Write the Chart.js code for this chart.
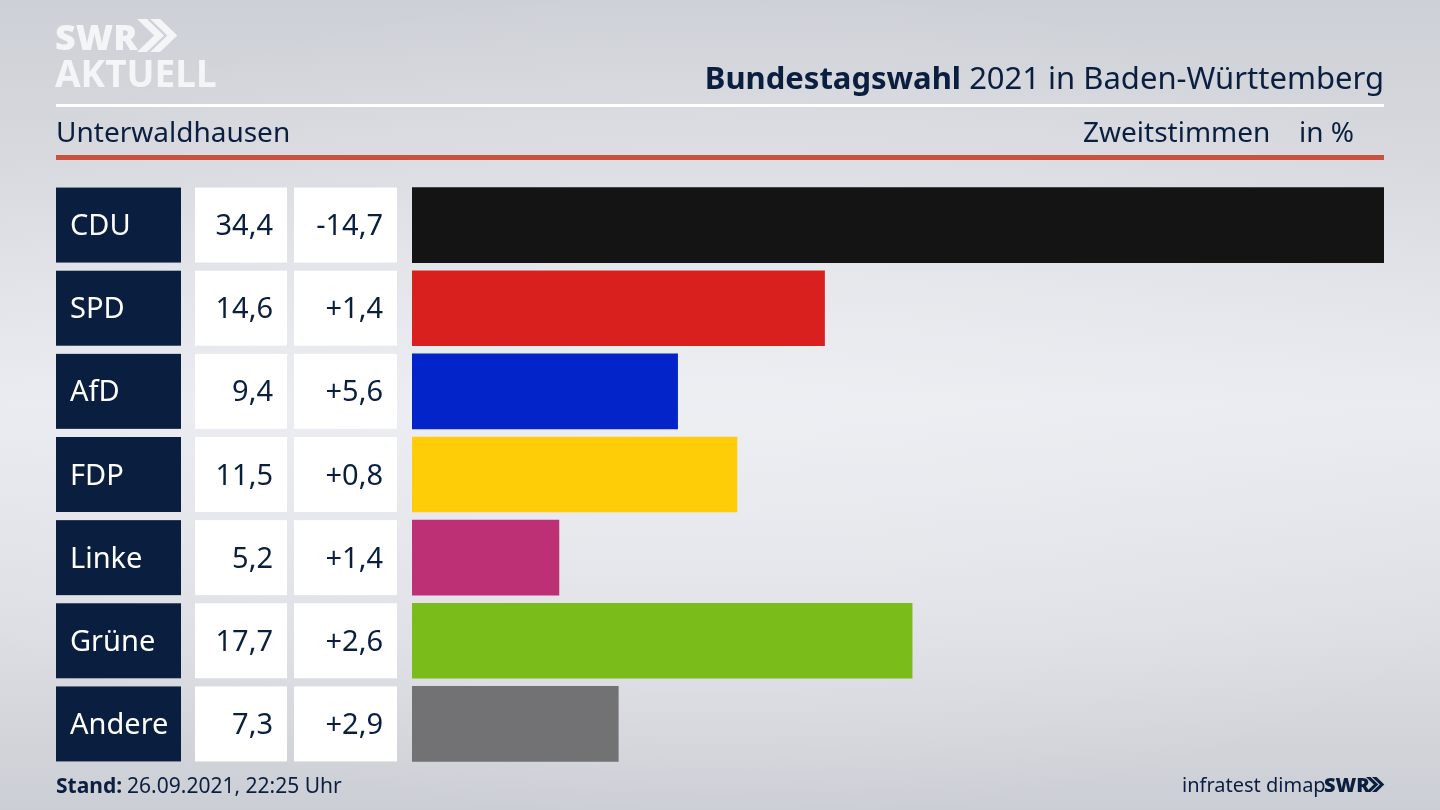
<!DOCTYPE html>
<html lang="de">
<head>
<meta charset="utf-8">
<title>Bundestagswahl 2021 in Baden-Württemberg</title>
<script src="https://cdn.jsdelivr.net/npm/chart.js@4"></script>
<style>
  html, body { margin: 0; padding: 0; width: 1440px; height: 810px; overflow: hidden; }
  body {
    background:
      radial-gradient(ellipse 900px 420px at 50% 50%, rgba(240,241,245,0.55), rgba(240,241,245,0) 100%),
      linear-gradient(180deg, #cdd0d6 0%, #d8dadf 22%, #eaebf0 50%, #dcdee3 78%, #ccced5 100%);
  }
  canvas { display: block; }
</style>
</head>
<body>
<canvas id="wahlChart" width="1440" height="810"></canvas>
<script>
// Data
const parties = ['CDU', 'SPD', 'AfD', 'FDP', 'Linke', 'Grüne', 'Andere'];
const shares = [34.4, 14.6, 9.4, 11.5, 5.2, 17.7, 7.3];
const changes = [-14.7, 1.4, 5.6, 0.8, 1.4, 2.6, 2.9];
const partyColors = ['#141414', '#d9201e', '#0224c8', '#ffcc08', '#bd3075', '#7abd1a', '#727274'];

const NAVY = '#0a1f40';
const FONT = '"Noto Sans", sans-serif';

function fmt(value) {
  return Math.abs(value).toLocaleString('de-DE', { minimumFractionDigits: 1, maximumFractionDigits: 1 });
}

function chevrons(ctx, x, y, h, color) {
  // the two arrows of the SWR logo
  const w = h * 0.52;
  const t = h * 0.3;
  ctx.fillStyle = color;
  [0, t + h * 0.1].forEach(function(dx) {
    ctx.beginPath();
    ctx.moveTo(x + dx, y);
    ctx.lineTo(x + dx + t, y);
    ctx.lineTo(x + dx + t + w, y + h / 2);
    ctx.lineTo(x + dx + t, y + h);
    ctx.lineTo(x + dx, y + h);
    ctx.lineTo(x + dx + w, y + h / 2);
    ctx.closePath();
    ctx.fill();
  });
}

// Frame of the graphic: logo, headings, rules and footer
const framePlugin = {
  id: 'frame',
  beforeDraw: function(chart) {
    const ctx = chart.ctx;
    ctx.save();
    ctx.textBaseline = 'alphabetic';

    // logo
    ctx.fillStyle = '#f4f5f7';
    ctx.textAlign = 'left';
    ctx.font = '900 36px ' + FONT;
    ctx.fillText('SWR', 55, 50);
    chevrons(ctx, 137, 19, 33, '#f4f5f7');
    ctx.font = '700 37px ' + FONT;
    ctx.fillText('AKTUELL', 55, 87);

    // title
    ctx.fillStyle = NAVY;
    ctx.font = '400 31px ' + FONT;
    const rest = ' 2021 in Baden-Württemberg';
    const restWidth = ctx.measureText(rest).width;
    ctx.textAlign = 'right';
    ctx.fillText(rest, 1384, 89);
    ctx.font = '700 31px ' + FONT;
    ctx.fillText('Bundestagswahl', 1384 - restWidth, 89);

    // white rule and red rule
    ctx.fillStyle = '#ffffff';
    ctx.fillRect(56, 104, 1328, 3);
    ctx.fillStyle = '#c9523f';
    ctx.fillRect(56, 155, 1328, 5);

    // subheads
    ctx.fillStyle = NAVY;
    ctx.font = '400 28px ' + FONT;
    ctx.textAlign = 'left';
    ctx.fillText('Unterwaldhausen', 56, 142);
    ctx.fillText('Zweitstimmen', 1083, 142);
    ctx.fillText('in %', 1299, 142);

    // footer
    ctx.font = '700 21px ' + FONT;
    ctx.fillText('Stand:', 56, 793);
    const standWidth = ctx.measureText('Stand:').width;
    ctx.font = '400 21px ' + FONT;
    ctx.fillText('26.09.2021, 22:25 Uhr', 56 + standWidth + 5, 793);

    ctx.font = '400 20px ' + FONT;
    ctx.fillText('infratest dimap', 1182, 792);
    ctx.font = '900 20px ' + FONT;
    ctx.fillText('SWR', 1324, 792);
    chevrons(ctx, 1366, 777, 15, NAVY);
    ctx.restore();
  }
};

// Table cells left of each bar, aligned to the bars themselves
const tablePlugin = {
  id: 'table',
  afterDatasetsDraw: function(chart) {
    const ctx = chart.ctx;
    const bars = chart.getDatasetMeta(0).data;
    ctx.save();
    ctx.textBaseline = 'alphabetic';
    ctx.font = '400 29px ' + FONT;
    bars.forEach(function(bar, i) {
      const top = bar.y - bar.height / 2;
      const h = bar.height;
      const base = bar.y + 10;

      ctx.fillStyle = NAVY;
      ctx.fillRect(56, top, 125, h);
      ctx.fillStyle = '#ffffff';
      ctx.fillRect(195, top, 92, h);
      ctx.fillRect(294, top, 103, h);

      ctx.textAlign = 'left';
      ctx.fillText(parties[i], 70, base);

      ctx.fillStyle = NAVY;
      ctx.textAlign = 'right';
      ctx.fillText(fmt(shares[i]), 273, base);
      ctx.fillText((changes[i] < 0 ? '-' : '+') + fmt(changes[i]), 383, base);
    });
    ctx.restore();
  }
};

new Chart(document.getElementById('wahlChart').getContext('2d'), {
  type: 'bar',
  data: {
    labels: parties,
    datasets: [{
      data: shares,
      backgroundColor: partyColors,
      borderWidth: 0,
      barThickness: 75
    }]
  },
  options: {
    indexAxis: 'y',
    responsive: false,
    animation: false,
    layout: { padding: { left: 412, right: 56, top: 183.5, bottom: 44.5 } },
    plugins: {
      legend: { display: false },
      tooltip: { enabled: false }
    },
    scales: {
      x: { display: false, min: 0, max: 34.4 },
      y: { display: false }
    }
  },
  plugins: [framePlugin, tablePlugin]
});
</script>
</body>
</html>
